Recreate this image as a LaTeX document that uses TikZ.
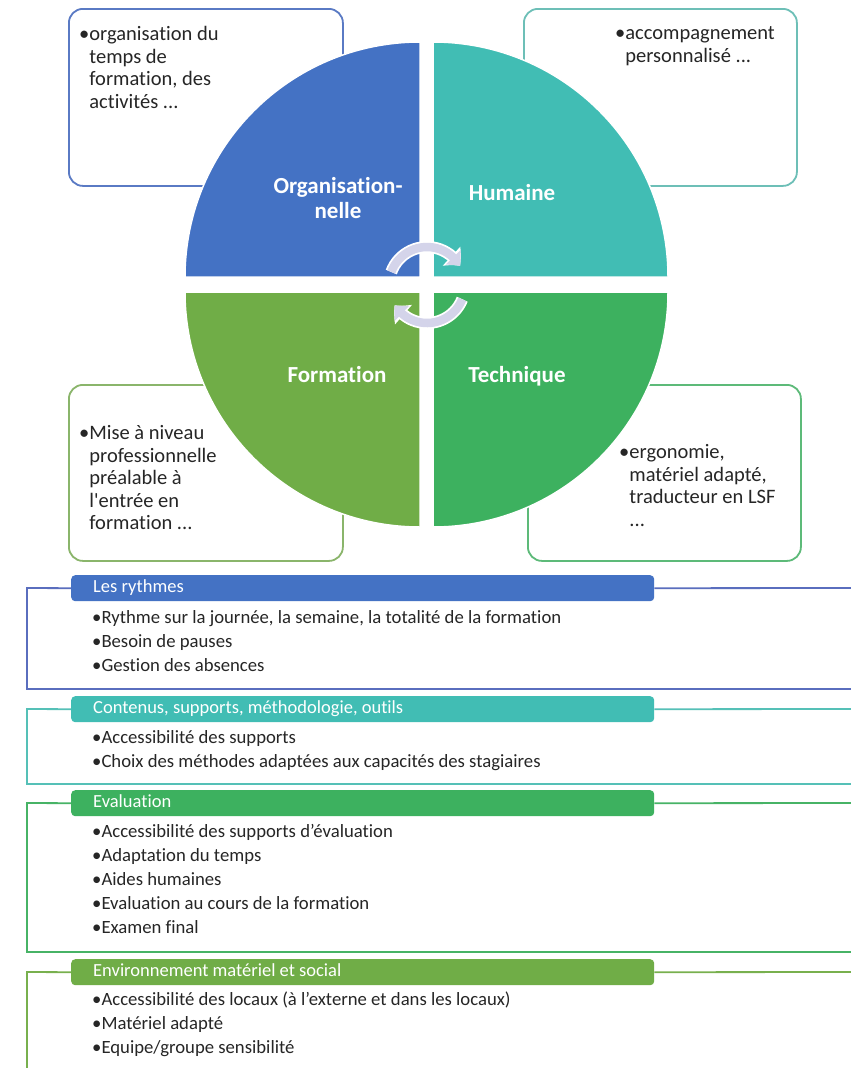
\documentclass[tikz,border=0pt]{standalone}
\usepackage{fontspec}
\setmainfont{Carlito}[Ligatures=NoCommon]
\newfontfamily\calplain{Carlito}[Ligatures=NoCommon]
\usetikzlibrary{arrows.meta,bending}
\definecolor{qblue}{HTML}{4472C4}
\definecolor{qteal}{HTML}{41BDB4}
\definecolor{qgreen}{HTML}{70AD47}
\definecolor{qgreenb}{HTML}{3DB15F}
\definecolor{lav}{HTML}{D4D4EA}
\definecolor{bTL}{HTML}{5A7AC4}
\definecolor{bTR}{HTML}{6DBFB7}
\definecolor{bBL}{HTML}{8AB56B}
\definecolor{bBR}{HTML}{5DBA79}
\definecolor{sA}{HTML}{5A6EBE}
\definecolor{sB}{HTML}{55C0B7}
\definecolor{sC}{HTML}{47B366}
\definecolor{sD}{HTML}{78B04E}
\definecolor{txt}{HTML}{262626}
\begin{document}
\begin{tikzpicture}[x=1pt,y=1pt,
  tbox/.style={draw, line width=1.8pt, rounded corners=14pt, fill=white,
    minimum width=274pt, minimum height=177pt, anchor=north west, inner sep=0pt},
  btext/.style={anchor=north west, inner sep=0pt, text=txt,
    font=\calplain\fontsize{20.5}{22.5}\selectfont},
  qlabel/.style={text=white, font=\bfseries\fontsize{23}{25}\selectfont, align=center},
  qone/.style={qlabel, text height=15pt, text depth=4pt},
  hdr/.style={rounded corners=4pt, minimum height=26pt, minimum width=583pt,
    anchor=north west, inner sep=0pt},
  hdrtext/.style={anchor=west, inner sep=0pt, text=white,
    text height=13pt, text depth=4pt, font=\fontsize{18.5}{22}\selectfont},
  items/.style={anchor=north west, inner sep=0pt, text=txt,
    font=\fontsize{18.7}{24.2}\selectfont},
  frame/.style={line width=1.8pt},
  cyc/.style={line width=8.5pt, draw=lav, -{Triangle[width=20pt,length=11pt,bend]}},
  cycw/.style={line width=12pt, draw=white, -{Triangle[width=25pt,length=13pt,bend]}}
]
\useasboundingbox (0,0) rectangle (851,-1068);
\fill[white] (0,0) rectangle (851,-1068);

% text boxes (behind the circle)
\node[tbox, draw=bTL] (boxTL) at (68,-8) {};
\node[tbox, draw=bTR, minimum width=273pt] (boxTR) at (523,-8) {};
\node[tbox, draw=bBL, minimum height=176pt] (boxBL) at (68,-384) {};
\node[tbox, draw=bBR, minimum width=273pt, minimum height=176pt] (boxBR) at (527,-384) {};

% quadrants
\fill[qblue, draw=white, line width=1.5pt] (420,-277) -- ++(-235,0) arc[start angle=180,end angle=90,radius=235] -- cycle;
\fill[qteal, draw=white, line width=1.5pt] (433,-277) -- ++(0,235) arc[start angle=90,end angle=0,radius=235] -- cycle;
\fill[qgreen, draw=white, line width=1.5pt] (420,-292) -- ++(-235,0) arc[start angle=180,end angle=270,radius=235] -- cycle;
\fill[qgreenb, draw=white, line width=1.5pt] (433,-292) -- ++(235,0) arc[start angle=0,end angle=-90,radius=235] -- cycle;

% box texts
\node[btext] (tTL) at (79,-25) {\begin{tabular}{@{}l@{}l@{}}•&organisation du\\&temps de\\&formation, des\\&activités ...\end{tabular}};
\node[btext] (tTR) at (615,-24) {\begin{tabular}{@{}l@{}l@{}}•&accompagnement\\&personnalisé ...\end{tabular}};
\node[btext] (tBL) at (79,-424) {\begin{tabular}{@{}l@{}l@{}}•&Mise à niveau\\&professionnelle\\&préalable à\\&l'entrée en\\&formation ...\end{tabular}};
\node[btext] (tBR) at (619,-443) {\begin{tabular}{@{}l@{}l@{}}•&ergonomie,\\&matériel adapté,\\&traducteur en LSF\\&...\end{tabular}};

% quadrant labels
\node[qlabel] (lOrg) at (338,-198) {Organisation-\\nelle};
\node[qone] (lHum) at (512,-195) {Humaine};
\node[qone] (lFor) at (337,-377) {Formation};
\node[qone] (lTec) at (517,-377) {Technique};

% cycle arrows
\coordinate (cc) at (427,-285);
\coordinate (aS) at ([shift={(160:38)}]cc);
\coordinate (bS) at ([shift={(-22:38)}]cc);
\draw[cycw] (aS) arc[start angle=160,end angle=30,radius=38];
\draw[cyc] (aS) arc[start angle=160,end angle=30,radius=38];
\draw[cycw] (bS) arc[start angle=-22,end angle=-148,radius=38];
\draw[cyc] (bS) arc[start angle=-22,end angle=-148,radius=38];

% section 1
\node[hdr, fill=qblue] (h1) at (71,-575) {};
\node[hdrtext] (h1t) at ([xshift=22pt]h1.west) {Les rythmes};
\draw[frame, sA] (h1.east) -- (851,-588);
\draw[frame, sA] (h1.west) -- (27,-588) -- (27,-689) -- (851,-689);
\node[items] (i1) at (92,-606) {\begin{tabular}{@{}l@{}l@{}}•&Rythme sur la journée, la semaine, la totalité de la formation\\•&Besoin de pauses\\•&Gestion des absences\end{tabular}};

% section 2
\node[hdr, fill=qteal] (h2) at (71,-696) {};
\node[hdrtext] (h2t) at ([xshift=22pt]h2.west) {Contenus, supports, méthodologie, outils};
\draw[frame, sB] (h2.east) -- (851,-709);
\draw[frame, sB] (h2.west) -- (27,-709) -- (27,-784) -- (851,-784);
\node[items] (i2) at (92,-726) {\begin{tabular}{@{}l@{}l@{}}•&Accessibilité des supports\\•&Choix des méthodes adaptées aux capacités des stagiaires\end{tabular}};

% section 3
\node[hdr, fill=qgreenb] (h3) at (71,-790) {};
\node[hdrtext] (h3t) at ([xshift=22pt]h3.west) {Evaluation};
\draw[frame, sC] (h3.east) -- (851,-803);
\draw[frame, sC] (h3.west) -- (27,-803) -- (27,-952) -- (851,-952);
\node[items] (i3) at (92,-820) {\begin{tabular}{@{}l@{}l@{}}•&Accessibilité des supports d’évaluation\\•&Adaptation du temps\\•&Aides humaines\\•&Evaluation au cours de la formation\\•&Examen final\end{tabular}};

% section 4
\node[hdr, fill=qgreen] (h4) at (71,-959) {};
\node[hdrtext] (h4t) at ([xshift=22pt]h4.west) {Environnement matériel et social};
\draw[frame, sD] (h4.east) -- (851,-972);
\draw[frame, sD] (h4.west) -- (27,-972) -- (27,-1068);
\node[items] (i4) at (92,-988) {\begin{tabular}{@{}l@{}l@{}}•&Accessibilité des locaux (à l’externe et dans les locaux)\\•&Matériel adapté\\•&Equipe/groupe sensibilité\end{tabular}};
\end{tikzpicture}
\end{document}
